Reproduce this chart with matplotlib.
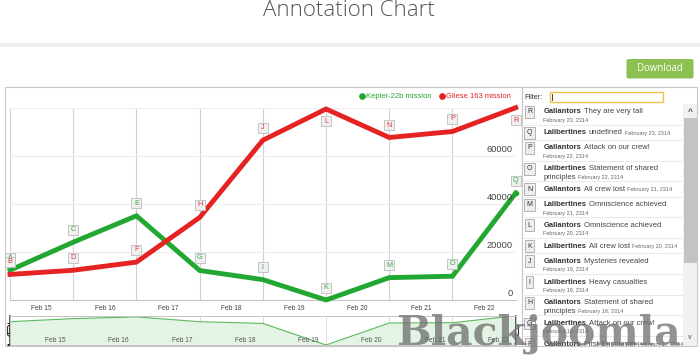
import matplotlib
matplotlib.use('Agg')
import matplotlib.pyplot as plt
from matplotlib.patches import Rectangle, FancyBboxPatch
from matplotlib.transforms import offset_copy

plt.rcParams['font.family'] = ['Liberation Sans', 'DejaVu Sans']

# chart data (Feb 15 .. Feb 23, 2314)
days = [0, 1, 2, 3, 4, 5, 6, 7, 8]
day_labels = ['Feb 15', 'Feb 16', 'Feb 17', 'Feb 18', 'Feb 19', 'Feb 20', 'Feb 21', 'Feb 22']
kepler = [12400, 24045, 35022, 12284, 8476, 0, 9300, 9900, 44500]
gliese = [10645, 12374, 15766, 34334, 66467, 79463, 67600, 70100, 80000]
kepler_marks = ['A', 'C', 'E', 'G', 'I', 'K', 'M', 'O', 'Q']
gliese_marks = ['B', 'D', 'F', 'H', 'J', 'L', 'N', 'P', 'R']
y_labels = [0, 20000, 40000, 60000]

# annotation list on the right
list_marks = ['R', 'Q', 'P', 'O', 'N', 'M', 'L', 'K', 'J', 'I', 'H', 'G', 'F']
list_names = ['Gallantors', 'Lalibertines'] * 6 + ['Gallantors']
list_notes = ['They are very tall', 'undefined', 'Attack on our crew!',
              'Statement of shared\nprinciples', 'All crew lost', 'Omniscience achieved',
              'Omniscience achieved', 'All crew lost', 'Mysteries revealed',
              'Heavy casualties', 'Statement of shared\nprinciples', 'Attack on our crew!',
              'First Encounter']
list_dates = ['February 23, 2314', 'February 23, 2314', 'February 22, 2314', 'February 22, 2314',
              'February 21, 2314', 'February 21, 2314', 'February 20, 2314', 'February 20, 2314',
              'February 19, 2314', 'February 19, 2314', 'February 18, 2314', 'February 18, 2314',
              'February 17, 2314']
date_inline = [False, True, False, True, True, False, False, True, False, False, True, False, True]

GREEN = '#22a832'
RED = '#e52323'
W, H = 700, 362

fig = plt.figure(figsize=(7, 3.62), dpi=100, facecolor='white')


def px_axes(x0, y0, x1, y1):
    return fig.add_axes([x0 / W, 1 - y1 / H, (x1 - x0) / W, (y1 - y0) / H])


# page background in pixel coords
bg = px_axes(0, 0, W, H)
bg.set_xlim(0, W)
bg.set_ylim(H, 0)
bg.axis('off')

bg.text(349, 11, 'Annotation Chart', ha='center', va='center', fontsize=16,
        family=['Open Sans', 'DejaVu Sans'], fontweight='light', color='#555555')
bg.add_patch(Rectangle((0, 43), W, 4, fc='#efefef', ec='none'))
bg.add_patch(FancyBboxPatch((626.5, 59), 67, 19.5, boxstyle='round,pad=0,rounding_size=2',
                            fc='#8cc152', ec='none'))
bg.text(660, 68.8, 'Download', ha='center', va='center', fontsize=6.9,
        family=['Open Sans', 'DejaVu Sans'], color='white')

# containers
bg.add_patch(Rectangle((4.5, 86.5), 517.5, 259.5, fc='none', ec='#c8c8c8', lw=0.8))
bg.add_patch(Rectangle((522, 86.5), 175, 259.5, fc='none', ec='#c8c8c8', lw=0.8))

# legend
bg.plot([361.7], [95.7], 'o', ms=3.8, color=GREEN)
bg.text(366.5, 96, 'Kepler-22b mission', va='center', ha='left', fontsize=5.5, color=GREEN)
bg.plot([441.7], [95.7], 'o', ms=3.8, color=RED)
bg.text(446.3, 96, 'Gliese 163 mission', va='center', ha='left', fontsize=5.5, color=RED)

# main chart
ax = px_axes(10, 107.7, 515.7, 300)
ax.set_xlim(0, 8)
ax.set_ylim(0, 80000)
for s in ['left', 'right', 'top']:
    ax.spines[s].set_visible(False)
ax.spines['bottom'].set_color('#c4c4c4')
ax.spines['bottom'].set_linewidth(0.8)
ax.set_xticks(days)
ax.set_yticks([0, 20000, 40000, 60000, 80000])
ax.tick_params(length=0, labelbottom=False, labelleft=False)
ax.grid(axis='x', color='#d2d2d2', lw=0.8)
ax.grid(axis='y', color='#eeeeee', lw=0.8)
ax.set_axisbelow(True)

ax.plot(days, kepler, color=GREEN, lw=3.5, solid_joinstyle='miter', clip_on=False, zorder=3)
ax.plot(days, gliese, color=RED, lw=3.5, solid_joinstyle='miter', clip_on=False, zorder=4)
ax.plot(days[-1:], kepler[-1:], 'o', ms=3, color=GREEN, clip_on=False, zorder=4)

up = offset_copy(ax.transData, fig=fig, x=0, y=12.5, units='dots')
down = offset_copy(ax.transData, fig=fig, x=0, y=-12.5, units='dots')
z = 5
for vals, marks, col in [(kepler, kepler_marks, '#36a842'), (gliese, gliese_marks, '#de3535')]:
    for d, v, m in zip(days, vals, marks):
        tr = down if v > 75000 else up
        ax.plot([d], [v], marker='s', ms=7, mfc='#f0f0f0', mec='#bdbdbd', mew=0.6,
                transform=tr, clip_on=False, zorder=z)
        ax.text(d, v, m, transform=tr, ha='center', va='center', fontsize=5.2, color=col,
                zorder=z + 0.5, clip_on=False)
        z += 1

for i, lbl in enumerate(day_labels):
    ax.annotate(lbl, (i + 0.5, 0), xytext=(0, -8.5), textcoords='offset pixels',
                ha='center', va='center', fontsize=4.8, color='#444444', annotation_clip=False)
for v in y_labels:
    ax.annotate(str(v), (8, v), xytext=(-3, 2), textcoords='offset pixels',
                ha='right', va='bottom', fontsize=6.7, color='#444444')

# range navigator
nav = px_axes(10, 315.7, 515.7, 345)
nav.set_xlim(0, 8)
nav.set_yscale('symlog', linthresh=1000)
nav.set_ylim(0, 45500)
nav.fill_between(days, kepler, 0, color='#e4f4e4', lw=0)
nav.plot(days, kepler, color='#5cb85c', lw=0.8)
nav.set_xticks(days)
nav.set_yticks([])
nav.tick_params(length=0, labelbottom=False)
nav.grid(axis='x', color='#d6d6d6', lw=0.6)
nav.set_axisbelow(True)
for s in nav.spines.values():
    s.set_color('#c4c4c4')
    s.set_linewidth(0.7)
for i, lbl in enumerate(day_labels):
    nav.annotate(lbl, (i + 0.72, 0), xycoords=('data', 'axes fraction'), xytext=(0, 5),
                 textcoords='offset pixels', ha='center', va='center', fontsize=4.8, color='#555555')
for xe in [0, 8]:
    nav.axvline(xe, color='#333333', lw=1.1, clip_on=False)
for xc in [10.5, 515.5]:
    bg.add_patch(FancyBboxPatch((xc - 3, 325.5), 6, 10.5, boxstyle='round,pad=0,rounding_size=2',
                                fc='white', ec='#333333', lw=0.8, zorder=5))
    bg.add_patch(Rectangle((xc - 1.2, 327.8), 2.4, 6, fc='#666666', ec='none', zorder=6))

# annotation panel
bg.text(524.5, 97.3, 'Filter:', va='center', ha='left', fontsize=5.2, color='#333333')
bg.add_patch(Rectangle((549.5, 92.3), 113.5, 9.4, fc='white', ec='#efc04a', lw=1))
bg.plot([551.5, 551.5], [94, 100], color='#222222', lw=0.6)

bg.add_patch(Rectangle((683, 104), 14, 242, fc='#f1f1f1', ec='none'))
bg.add_patch(Rectangle((683.5, 118), 13, 145, fc='#c3c3c3', ec='none'))
bg.text(690, 112.5, '^', ha='center', va='center', fontsize=6, color='#444444', fontweight='bold')
bg.text(690, 337.5, 'v', ha='center', va='center', fontsize=5, color='#444444')

pl = px_axes(522.5, 104, 683, 346)
pl.set_xlim(522.5, 683)
pl.set_ylim(346, 104)
pl.axis('off')

cursor = 105.0
for i in range(len(list_marks)):
    lines = list_notes[i].split('\n')
    two = len(lines) > 1 or not date_inline[i]
    y1, y2 = cursor + 7, cursor + 15.5
    if i > 0:
        pl.plot([523.5, 683], [cursor - 1, cursor - 1], color='#e6e6e6', lw=0.6)
    pl.text(529.5, y1, list_marks[i], ha='center', va='center', fontsize=5, color='#333333',
            bbox=dict(boxstyle='square,pad=0.35', fc='#eeeeee', ec='#a8a8a8', lw=0.6), clip_on=True)
    name = pl.text(543.3, y1, list_names[i], ha='left', va='center', fontsize=5.5,
                   fontweight='bold', color='#333333', clip_on=True)
    note = pl.annotate(lines[0], xy=(1, 0), xycoords=name, xytext=(2.5, 0),
                       textcoords='offset pixels', va='bottom', ha='left', fontsize=5.5,
                       color='#444444', clip_on=True)
    if len(lines) > 1:
        note = pl.text(543.3, y2, lines[1], ha='left', va='center', fontsize=5.5,
                       color='#444444', clip_on=True)
    if date_inline[i]:
        pl.annotate(list_dates[i], xy=(1, 0), xycoords=note, xytext=(2.5, 0.6),
                    textcoords='offset pixels', va='bottom', ha='left', fontsize=4,
                    color='#666666', clip_on=True)
    else:
        pl.text(543.3, y2, list_dates[i], ha='left', va='center', fontsize=4,
                color='#666666', clip_on=True)
    cursor += 20.7 if two else 15.3

# site watermark, drawn above every axes
fig.text(396 / W, 1 - 345 / H, 'Blackjoomla', ha='left', va='baseline', fontsize=29.5,
         family=['DejaVu Serif'], fontweight='bold', color='#6e6e6e', alpha=0.75, zorder=20)

fig.savefig('out.png', dpi=100, facecolor='white')
